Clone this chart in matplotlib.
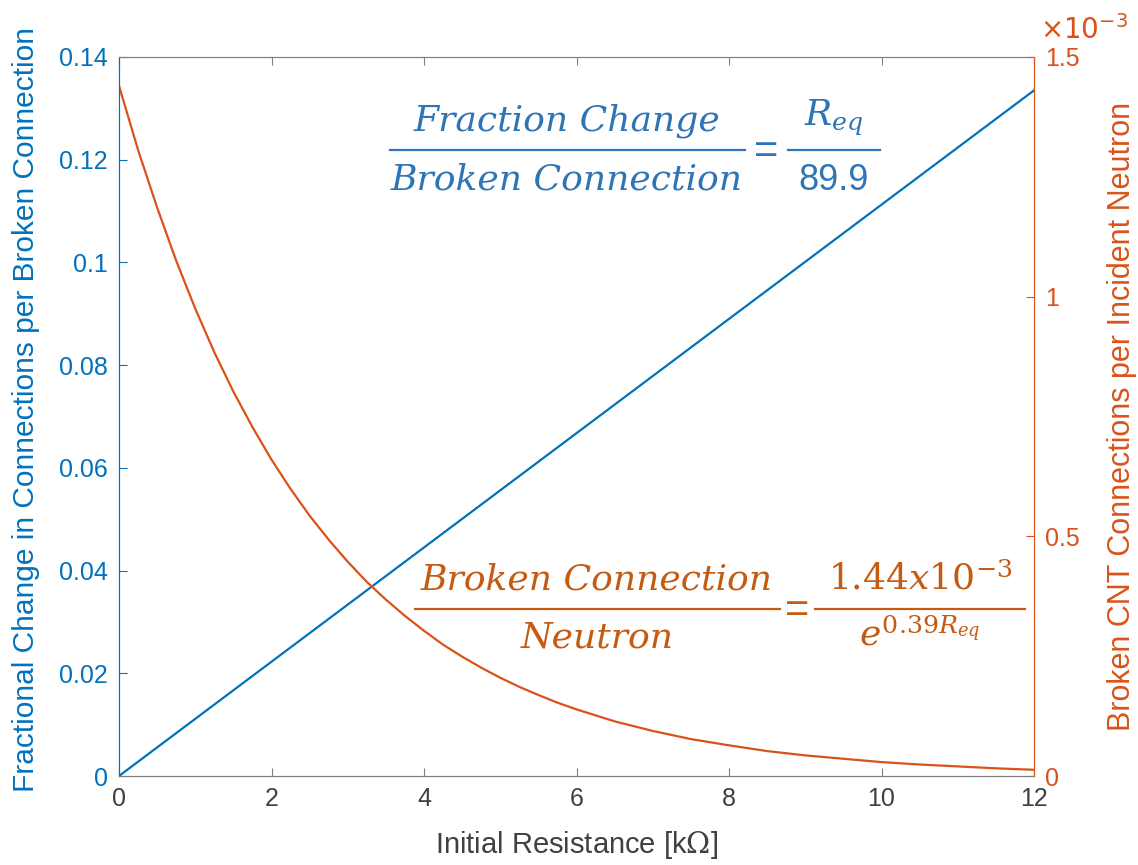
import matplotlib.pyplot as plt
from matplotlib.lines import Line2D
from matplotlib.ticker import FuncFormatter

# resistance values (kOhm) and measured responses
r_lin = [0, 12]
frac_change = [0, 0.1335]

r_exp = [0, 0.25, 0.5, 0.75, 1, 1.25, 1.5, 1.75, 2, 2.25, 2.5, 2.75, 3,
         3.25, 3.5, 3.75, 4, 4.25, 4.5, 4.75, 5, 5.25, 5.5, 5.75, 6,
         6.5, 7, 7.5, 8, 8.5, 9, 9.5, 10, 10.5, 11, 11.5, 12]
broken = [1.440e-3, 1.306e-3, 1.186e-3, 1.075e-3, 0.975e-3, 0.884e-3,
          0.802e-3, 0.728e-3, 0.660e-3, 0.599e-3, 0.543e-3, 0.493e-3,
          0.447e-3, 0.405e-3, 0.368e-3, 0.334e-3, 0.303e-3, 0.274e-3,
          0.249e-3, 0.226e-3, 0.205e-3, 0.186e-3, 0.169e-3, 0.153e-3,
          0.139e-3, 0.114e-3, 0.094e-3, 0.077e-3, 0.064e-3, 0.052e-3,
          0.043e-3, 0.036e-3, 0.029e-3, 0.024e-3, 0.020e-3, 0.016e-3,
          0.013e-3]

xticks = [0, 2, 4, 6, 8, 10, 12]
yticks_left = [0, 0.02, 0.04, 0.06, 0.08, 0.1, 0.12, 0.14]
yticks_right = [0, 0.5e-3, 1e-3, 1.5e-3]

blue = '#0072BD'
orange = '#D95319'
eq_blue = '#2E75B6'
eq_orange = '#C55A11'
dark = '#404040'

plt.rcParams['font.family'] = ['Liberation Sans', 'DejaVu Sans']
plt.rcParams['mathtext.fontset'] = 'dejavuserif'

W, H = 1138, 865
fig = plt.figure(figsize=(W / 100, H / 100), dpi=100)
ax = fig.add_axes([119 / W, 1 - 776 / H, 915 / W, 719 / H])
ax2 = ax.twinx()

ax.plot(r_lin, frac_change, color=blue, lw=1.6)
ax2.plot(r_exp, broken, color=orange, lw=1.6)

ax.set_xlim(0, 12)
ax.set_ylim(0, 0.14)
ax2.set_ylim(0, 1.5e-3)
ax.set_xticks(xticks)
ax.set_yticks(yticks_left)
ax2.set_yticks(yticks_right)
ax.yaxis.set_major_formatter(FuncFormatter(lambda v, p: '%g' % v))
ax2.yaxis.set_major_formatter(FuncFormatter(lambda v, p: '%g' % round(v * 1e3, 3)))

ax.tick_params(axis='x', direction='in', top=True, length=6, colors='#808080',
               labelsize=18, pad=8, labelcolor=dark)
ax.tick_params(axis='y', direction='in', length=6, colors=blue, labelsize=18, pad=8)
ax2.tick_params(axis='y', direction='in', length=6, colors=orange, labelsize=18, pad=8)

for a in (ax, ax2):
    a.spines['top'].set_color('#808080')
    a.spines['bottom'].set_color('#808080')
    a.spines['left'].set_color(blue)
    a.spines['right'].set_color(orange)

ax.set_xlabel('Initial Resistance [k$\\Omega$]', fontsize=21, color=dark)
ax.set_ylabel('Fractional Change in Connections per Broken Connection',
              fontsize=21.5, color=blue)
ax2.set_ylabel('Broken CNT Connections per Incident Neutron',
               fontsize=22, color=orange)
ax.xaxis.set_label_coords(0.5, -0.074)
ax.yaxis.set_label_coords(-0.086, 0.51)
ax2.yaxis.set_label_coords(1.080, 0.5)

fig.text(1040 / W, 1 - 30 / H, r'$\times10^{-3}$', color=orange, fontsize=20,
         ha='left', va='center', math_fontfamily='dejavusans')


def put(x, y, s, color, size=26, math=False):
    # x, y in figure pixels from the top-left corner
    kw = dict(color=color, fontsize=size, ha='center', va='center')
    if not math:
        kw.update(family='DejaVu Serif', style='italic')
    fig.text(x / W, 1 - y / H, s, **kw)


def bar(x0, x1, y, color):
    fig.add_artist(Line2D([x0 / W, x1 / W], [1 - y / H, 1 - y / H],
                          transform=fig.transFigure, color=color, lw=1.6))


# linear fit
put(567, 121, 'Fraction Change', eq_blue)
put(567, 180, 'Broken Connection', eq_blue)
bar(390, 745, 150, eq_blue)
put(766, 152, '=', eq_blue, size=30, math=True)
put(834, 118, r'$R_{eq}$', eq_blue, math=True)
put(834, 180, '89.9', eq_blue, math=True)
bar(788, 880, 150, eq_blue)

# exponential fit
put(597, 580, 'Broken Connection', eq_orange)
put(597, 637, 'Neutron', eq_orange)
bar(415, 780, 609, eq_orange)
put(797, 611, '=', eq_orange, size=30, math=True)
put(920, 580, r'$1.44x10^{-3}$', eq_orange, math=True)
put(920, 636, r'$e^{0.39R_{eq}}$', eq_orange, math=True)
bar(815, 1025, 609, eq_orange)

fig.savefig('out.png', dpi=100)
